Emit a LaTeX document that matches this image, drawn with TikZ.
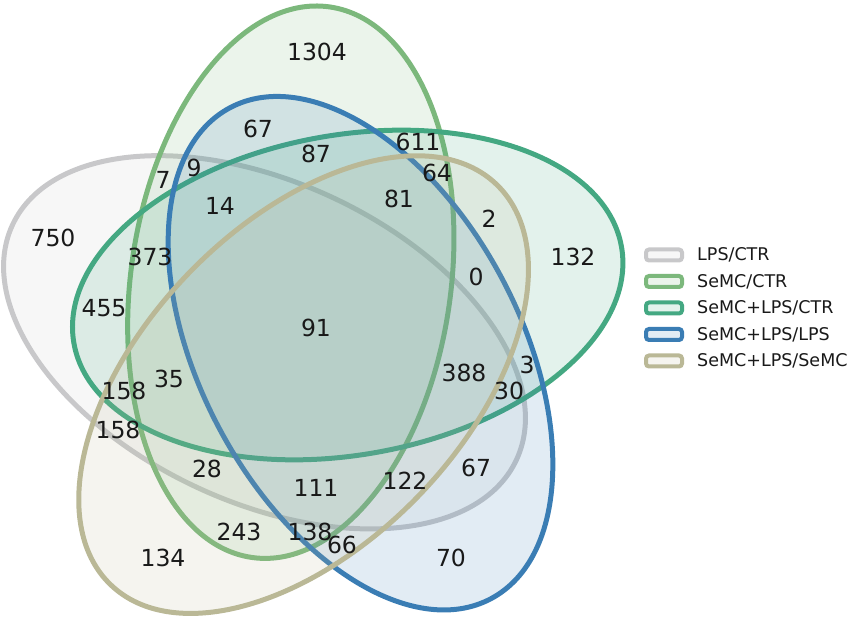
\documentclass[tikz,border=0pt]{standalone}
\usepackage{fontspec}
\setmainfont{DejaVu Sans}
\usetikzlibrary{positioning}

\definecolor{lpsctr}{RGB}{200,200,202}
\definecolor{semcctr}{RGB}{124,184,124}
\definecolor{semclpsctr}{RGB}{68,168,130}
\definecolor{semclpslps}{RGB}{58,125,180}
\definecolor{semclpssemc}{RGB}{186,184,150}

\begin{document}
\begin{tikzpicture}[x=1pt, y=-1pt,
        vennset/.style={line width=5pt, fill opacity=0.15, draw opacity=1},
        count/.style={font=\fontsize{23.5}{24}\selectfont, text=black!90, inner sep=0pt},
        legbox/.style={draw, line width=4pt, rounded corners=3pt, minimum width=36pt, minimum height=11pt, inner sep=0pt, fill opacity=0.15},
        leglabel/.style={font=\fontsize{17.5}{18}\selectfont, text=black!90, inner sep=0pt, anchor=west},
        node distance=11.5pt]

    \useasboundingbox (0,0) rectangle (854,617);

    % the five sets
    \draw[vennset, draw=lpsctr, fill=lpsctr, rotate around={155:(264.5,342.3)}]
        (264.5,342.3) ellipse [x radius=278pt, y radius=160pt];
    \draw[vennset, draw=semcctr, fill=semcctr, rotate around={82:(290.8,282.2)}]
        (290.8,282.2) ellipse [x radius=278pt, y radius=160pt];
    \draw[vennset, draw=semclpsctr, fill=semclpsctr, rotate around={10:(347.7,295.0)}]
        (347.7,295.0) ellipse [x radius=278pt, y radius=160pt];
    \draw[vennset, draw=semclpslps, fill=semclpslps, rotate around={118:(360.5,353.2)}]
        (360.5,353.2) ellipse [x radius=278pt, y radius=160pt];
    \draw[vennset, draw=semclpssemc, fill=semclpssemc, rotate around={46:(303.6,384.6)}]
        (303.6,384.6) ellipse [x radius=278pt, y radius=160pt];

    % counts
    \node[count] (c1304) at (317,52) {1304};
    \node[count] (c67a) at (258,129) {67};
    \node[count] (c87) at (316,154) {87};
    \node[count] (c611) at (418,142) {611};
    \node[count] (c64) at (437,173) {64};
    \node[count] (c9) at (194,168) {9};
    \node[count] (c7) at (163,180) {7};
    \node[count] (c14) at (220,206) {14};
    \node[count] (c81) at (399,199) {81};
    \node[count] (c2) at (489,219) {2};
    \node[count] (c750) at (53,238) {750};
    \node[count] (c373) at (150,257) {373};
    \node[count] (c132) at (573,257) {132};
    \node[count] (c0) at (476,277) {0};
    \node[count] (c455) at (104,308) {455};
    \node[count] (c91) at (316,328) {91};
    \node[count] (c35) at (169,379) {35};
    \node[count] (c158a) at (124,391) {158};
    \node[count] (c158b) at (118,430) {158};
    \node[count] (c388) at (464,373) {388};
    \node[count] (c3) at (527,365) {3};
    \node[count] (c30) at (509,391) {30};
    \node[count] (c28) at (207,469) {28};
    \node[count] (c111) at (316,488) {111};
    \node[count] (c122) at (405,481) {122};
    \node[count] (c67b) at (476,468) {67};
    \node[count] (c243) at (239,532) {243};
    \node[count] (c138) at (310,532) {138};
    \node[count] (c66) at (342,545) {66};
    \node[count] (c134) at (163,558) {134};
    \node[count] (c70) at (451,558) {70};

    % legend
    \node[legbox, draw=lpsctr, fill=lpsctr] (key1) at (664,255) {};
    \node[legbox, draw=semcctr, fill=semcctr, below=of key1] (key2) {};
    \node[legbox, draw=semclpsctr, fill=semclpsctr, below=of key2] (key3) {};
    \node[legbox, draw=semclpslps, fill=semclpslps, below=of key3] (key4) {};
    \node[legbox, draw=semclpssemc, fill=semclpssemc, below=of key4] (key5) {};
    \node[leglabel, right=15pt of key1.center, xshift=18pt] (lab1) {LPS/CTR};
    \node[leglabel, right=15pt of key2.center, xshift=18pt] (lab2) {SeMC/CTR};
    \node[leglabel, right=15pt of key3.center, xshift=18pt] (lab3) {SeMC+LPS/CTR};
    \node[leglabel, right=15pt of key4.center, xshift=18pt] (lab4) {SeMC+LPS/LPS};
    \node[leglabel, right=15pt of key5.center, xshift=18pt] (lab5) {SeMC+LPS/SeMC};
\end{tikzpicture}
\end{document}
